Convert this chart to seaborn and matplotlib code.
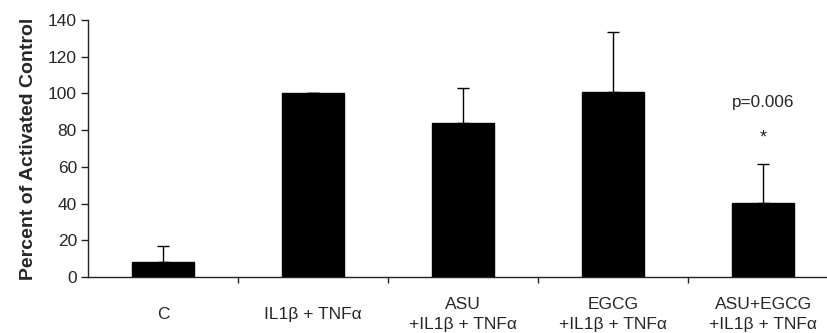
import matplotlib
matplotlib.use("Agg")
import matplotlib.pyplot as plt
import seaborn as sns
import pandas as pd
import numpy as np

categories = ["C", "IL1\u03b2 + TNF\u03b1", "ASU\n+IL1\u03b2 + TNF\u03b1",
              "EGCG\n+IL1\u03b2 + TNF\u03b1", "ASU+EGCG\n+IL1\u03b2 + TNF\u03b1"]
values = [8, 100, 84, 101, 40.5]
errors = [9, 0, 19, 32.5, 21]
y_ticks = [0, 20, 40, 60, 80, 100, 120, 140]

sns.set_style("white")
plt.rcParams["font.family"] = ["Liberation Sans", "DejaVu Sans"]

df = pd.DataFrame({"Group": categories, "Percent": values})

fig = plt.figure(figsize=(8.27, 3.33), dpi=100)
ax = fig.add_axes([0.1064, 0.168, 0.907, 0.772])

sns.barplot(data=df, x="Group", y="Percent", color="black", width=0.41,
            saturation=1, errorbar=None, ax=ax)
for p in ax.patches:
    p.set_edgecolor("black")

pos = np.arange(len(categories))
ax.errorbar(pos, values, yerr=[np.zeros(len(errors)), errors], fmt="none",
            ecolor="black", elinewidth=1, capsize=4, capthick=1)

ax.text(4, 95, "p=0.006", ha="center", va="center", fontsize=12.3)
ax.text(4, 76, "*", ha="center", va="center", fontsize=13)

ax.set_xlim(-0.5, 4.5)
ax.set_ylim(0, 140)
ax.set_yticks(y_ticks)
ax.set_ylabel("Percent of Activated Control", fontsize=14, fontweight="bold", labelpad=8)
ax.set_xlabel("")

for s in ["top", "right"]:
    ax.spines[s].set_visible(False)
for s in ["left", "bottom"]:
    ax.spines[s].set_color("#222222")
    ax.spines[s].set_linewidth(1)

ax.tick_params(axis="y", direction="out", length=5, width=1, color="#222222",
               labelsize=12.5, left=True, pad=3)
ax.tick_params(axis="x", which="major", length=0, labelsize=12.5, pad=27)
ax.set_xticks(pos)
ax.set_xticklabels(categories, va="center", linespacing=1.4)
ax.set_xticks(pos[:-1] + 0.5, minor=True)
ax.tick_params(axis="x", which="minor", direction="out", length=4, width=1,
               color="#222222", bottom=True)

fig.savefig("out.png", dpi=100)
